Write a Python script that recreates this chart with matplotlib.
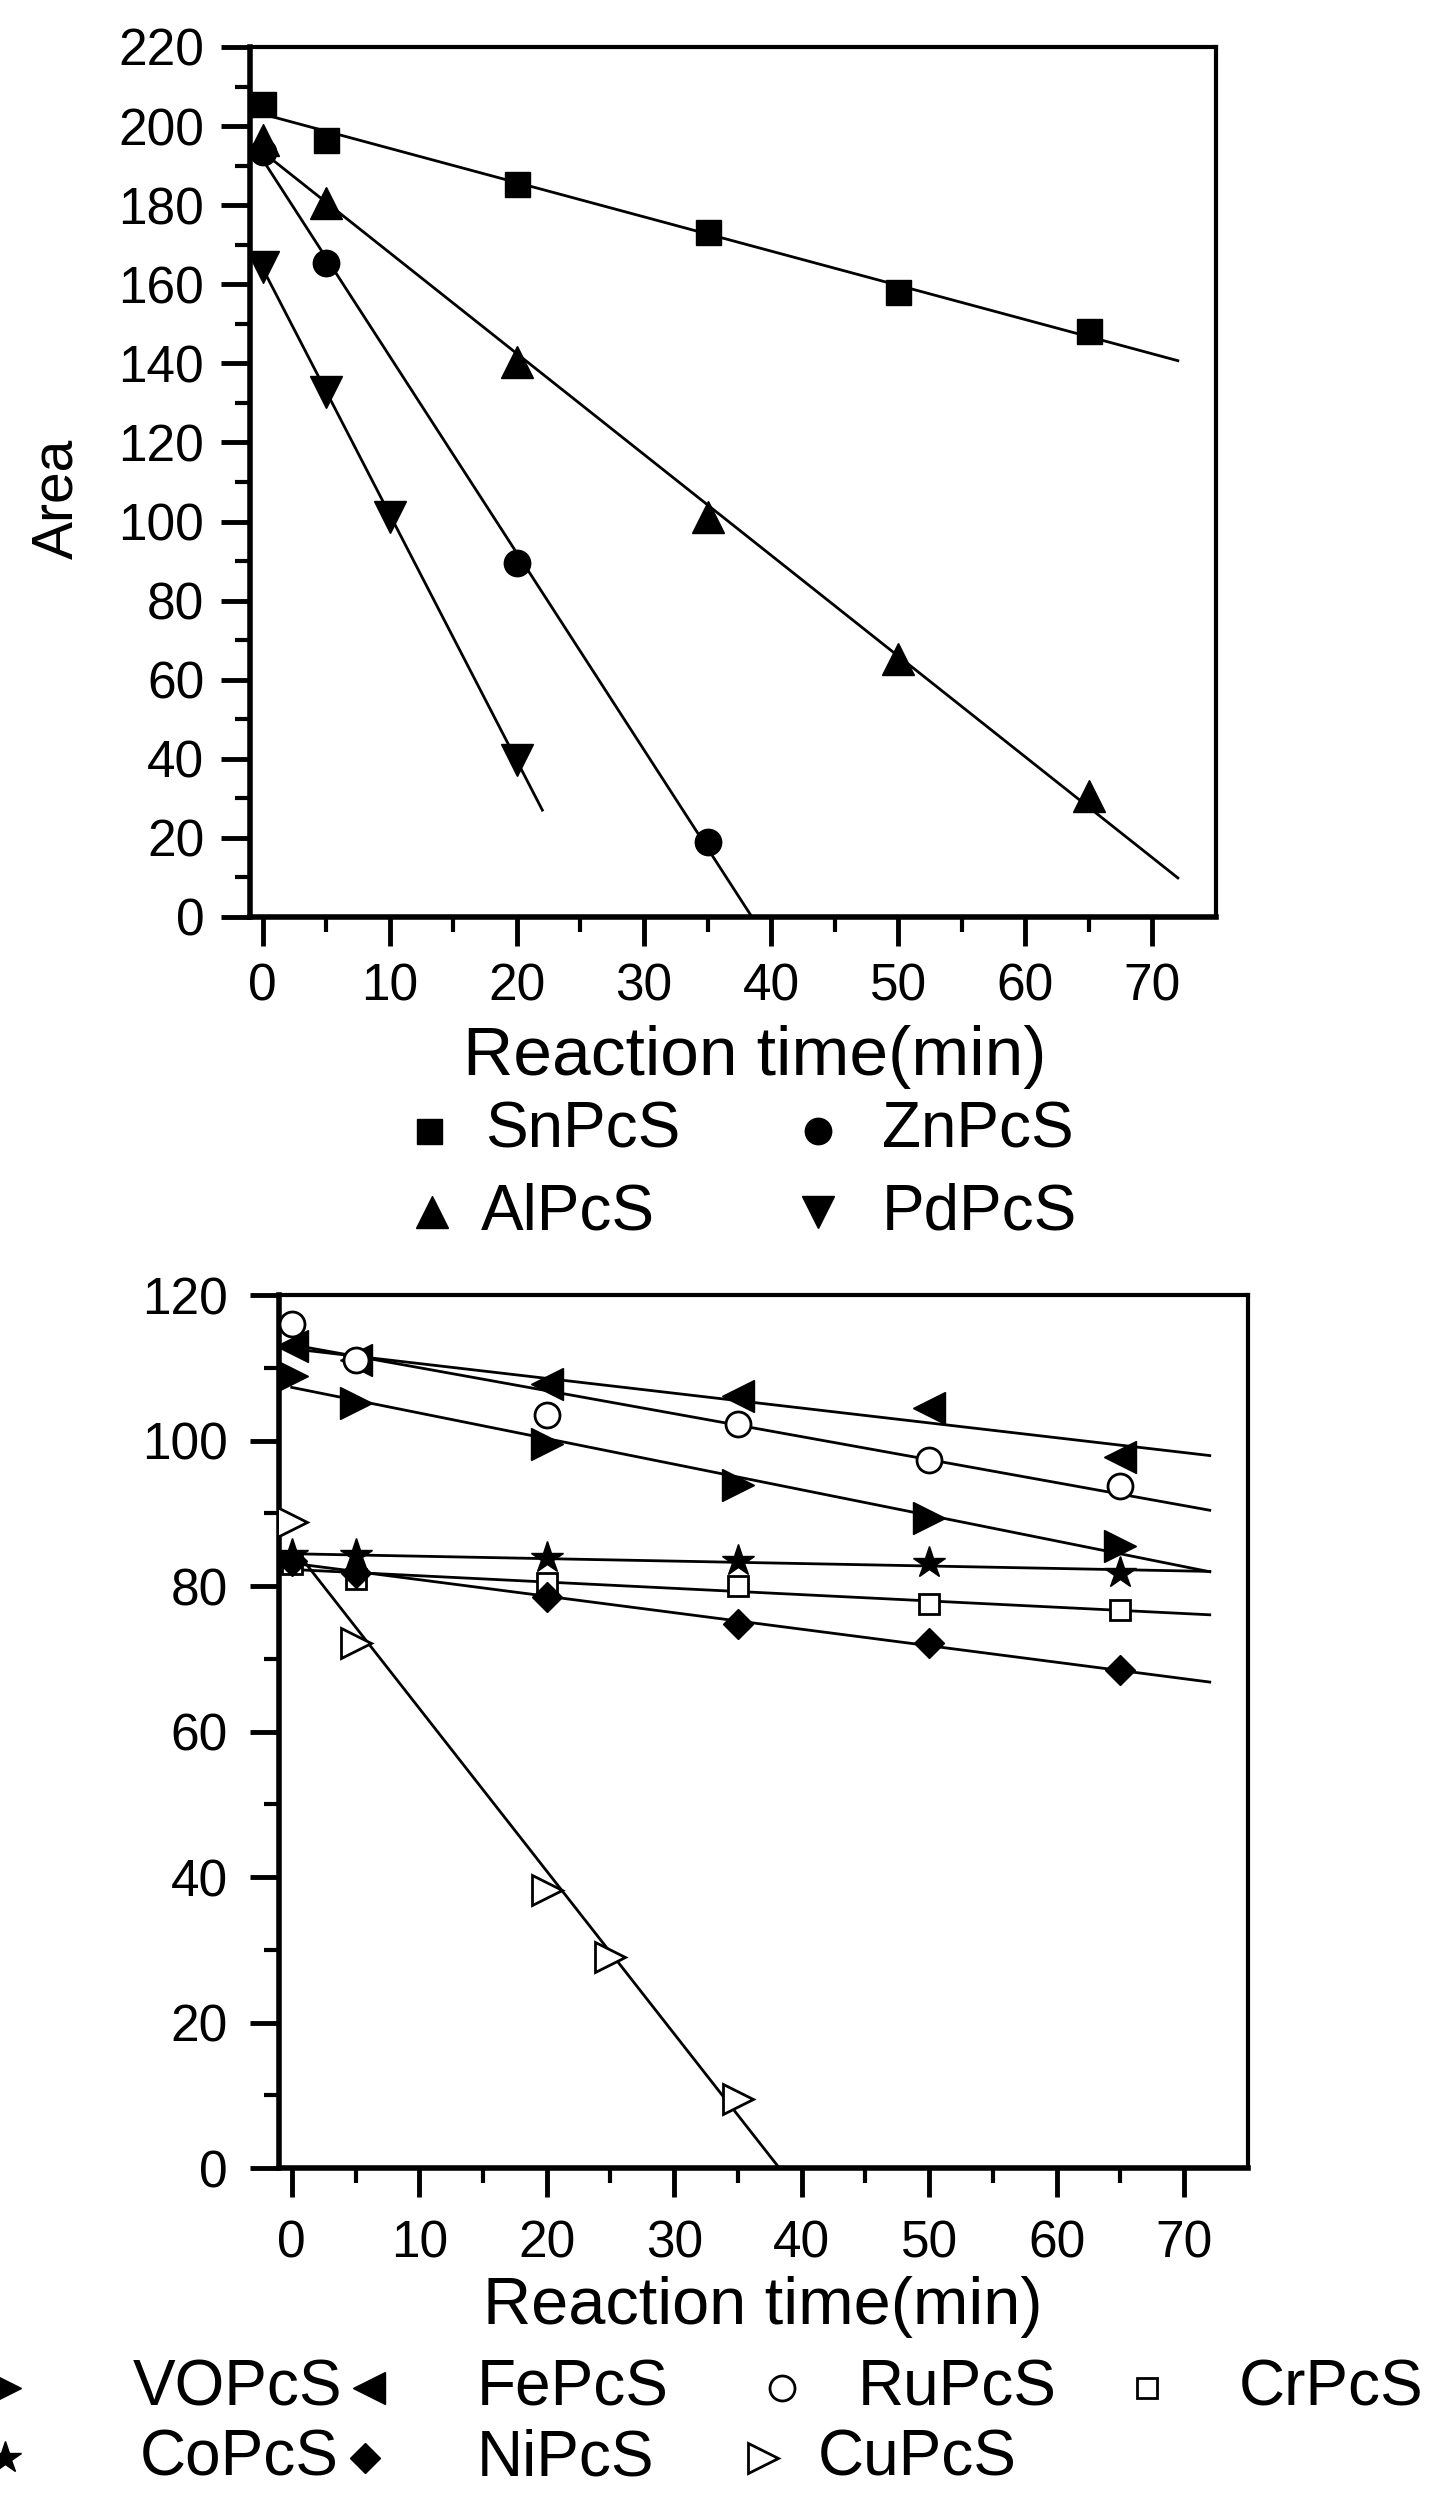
import matplotlib
matplotlib.use('Agg')
import matplotlib.pyplot as plt
import matplotlib.transforms as mtransforms
from matplotlib.lines import Line2D
import numpy as np

plt.rcParams['font.family'] = ['Liberation Sans', 'DejaVu Sans']

# ---- upper panel: SnPcS, ZnPcS, AlPcS, PdPcS ----
t_sn = [0, 5, 20, 35, 50, 65]
area_sn = [205.5, 196.5, 185.3, 173.2, 158.0, 148.1]
t_zn = [0, 5, 20, 35]
area_zn = [193.5, 165.5, 89.6, 18.9]
t_al = [0, 5, 20, 35, 50, 65]
area_al = [196.5, 180.6, 140.4, 101.2, 65.3, 30.5]
t_pd = [0, 5, 10, 20]
area_pd = [164.4, 132.7, 101.2, 39.8]

# ---- lower panel ----
t_vo = [0, 5, 20, 35, 50, 65]
area_vo = [108.8, 105.1, 99.5, 93.9, 89.4, 85.5]
t_fe = [0, 5, 20, 35, 50, 65]
area_fe = [113.0, 111.0, 107.7, 106.1, 104.4, 97.8]
t_ru = [0, 5, 20, 35, 50, 65]
area_ru = [116.0, 111.0, 103.5, 102.2, 97.3, 93.7]
t_cr = [0, 5, 20, 35, 50, 65]
area_cr = [83.0, 80.9, 80.4, 80.0, 77.5, 76.7]
t_co = [0, 5, 20, 35, 50, 65]
area_co = [84.2, 84.2, 83.9, 83.5, 83.1, 81.8]
t_ni = [0, 5, 20, 35, 50, 65]
area_ni = [83.5, 81.8, 78.5, 74.8, 72.1, 68.4]
t_cu = [0, 5, 20, 25, 35]
area_cu = [88.8, 72.1, 38.2, 29.0, 9.5]

W, H = 1435, 2493
fig = plt.figure(figsize=(W / 100, H / 100), dpi=100)
# pixel coordinates measured from the top-left corner
px = mtransforms.Affine2D().scale(1 / W, -1 / H).translate(0, 1) + fig.transFigure


def box(l, t, r, b):
    return [l / W, 1 - b / H, (r - l) / W, (b - t) / H]


def style_axes(ax, ymax, ystep):
    ax.set_xlim(-1, 75)
    ax.set_ylim(0, ymax)
    ax.set_xticks(np.arange(0, 71, 10))
    ax.set_xticks(np.arange(5, 75, 10), minor=True)
    ax.set_yticks(np.arange(0, ymax + 1, ystep))
    ax.set_yticks(np.arange(ystep / 2, ymax, ystep), minor=True)
    for s in ax.spines.values():
        s.set_linewidth(3)
    ax.spines['left'].set_linewidth(4)
    ax.spines['bottom'].set_linewidth(4)
    ax.tick_params(which='major', direction='out', length=21, width=3.5,
                   labelsize=37, pad=12)
    ax.tick_params(which='minor', direction='out', length=11, width=3)
    ax.tick_params(top=False, right=False)


def fit_line(ax, t, y, stop=72):
    a, b = np.polyfit(t, y, 1)
    end = stop
    if a < 0 and -b / a < stop:
        end = -b / a
    xs = np.array([0, end])
    ax.plot(xs, a * xs + b, color='black', lw=2, zorder=2)


def series(ax, t, y, st, stop=72):
    fit_line(ax, t, y, stop)
    ax.plot(t, y, ls='none', zorder=3, **st)


k = dict(color='black', mfc='black', mec='black')
st_sn = dict(marker='s', ms=18, **k)
st_zn = dict(marker='o', ms=19, **k)
st_al = dict(marker='^', ms=23, **k)
st_pd = dict(marker='v', ms=23, **k)

st_vo = dict(marker='>', ms=23, **k)
st_fe = dict(marker='<', ms=23, **k)
st_ru = dict(marker='o', ms=18, mfc='white', mec='black', mew=2)
st_cr = dict(marker='s', ms=15, mfc='white', mec='black', mew=2)
st_co = dict(marker='*', ms=24, **k)
st_ni = dict(marker='D', ms=15, **k)
st_cu = dict(marker='>', ms=22, mfc='white', mec='black', mew=2)

# upper panel
ax1 = fig.add_axes(box(250, 47, 1216, 917))
style_axes(ax1, 220, 20)
series(ax1, t_sn, area_sn, st_sn)
series(ax1, t_zn, area_zn, st_zn)
series(ax1, t_al, area_al, st_al)
series(ax1, t_pd, area_pd, st_pd, stop=22)
ax1.set_ylabel('Area', fontsize=41)
ax1.yaxis.set_label_coords((57 - 250) / 966, (917 - 499) / 870)
ax1.yaxis.label.set_va('center')
ax1.set_xlabel('Reaction time(min)', fontsize=50)
ax1.xaxis.set_label_coords((755 - 250) / 966, (917 - 1057) / 870)
ax1.xaxis.label.set_va('center')

# lower panel
ax2 = fig.add_axes(box(279, 1295, 1248, 2168))
style_axes(ax2, 120, 20)
ax2.tick_params(which='major', pad=16)
series(ax2, t_vo, area_vo, st_vo)
series(ax2, t_fe, area_fe, st_fe)
series(ax2, t_ru, area_ru, st_ru)
series(ax2, t_cr, area_cr, st_cr)
series(ax2, t_co, area_co, st_co)
series(ax2, t_ni, area_ni, st_ni)
series(ax2, t_cu, area_cu, st_cu)
ax2.set_xlabel('Reaction time(min)', fontsize=48)
ax2.xaxis.set_label_coords((763 - 279) / 969, (2168 - 2307) / 873)
ax2.xaxis.label.set_va('center')

# legend keys laid out under each panel
legend_top = [('SnPcS', st_sn, 429, 485, 1131), ('ZnPcS', st_zn, 818, 882, 1131),
              ('AlPcS', st_al, 432, 481, 1212), ('PdPcS', st_pd, 818, 882, 1212)]
legend_bottom = [('VOPcS', st_vo, 5, 133, 2388), ('FePcS', st_fe, 369, 477, 2388),
                 ('RuPcS', st_ru, 782, 858, 2388), ('CrPcS', st_cr, 1147, 1239, 2388),
                 ('CoPcS', st_co, 5, 140, 2458), ('NiPcS', st_ni, 365, 477, 2458),
                 ('CuPcS', st_cu, 763, 818, 2458)]
for name, st, mx, tx, y in legend_top + legend_bottom:
    fig.add_artist(Line2D([mx], [y], transform=px, ls='none', **st))
    fig.text(tx, y, name, transform=px, fontsize=46, va='center', ha='left')

fig.savefig('out.png', dpi=100)
